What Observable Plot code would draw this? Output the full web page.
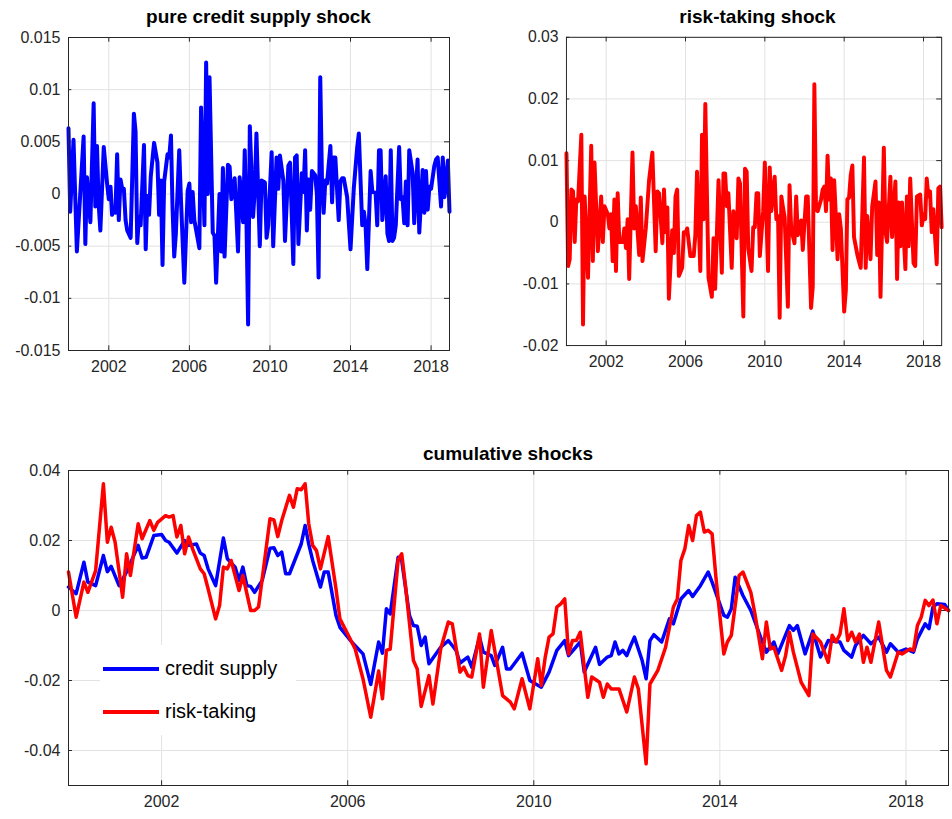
<!DOCTYPE html>
<html>
<head>
<meta charset="utf-8">
<script src="https://cdn.jsdelivr.net/npm/d3@7"></script>
<script src="https://cdn.jsdelivr.net/npm/@observablehq/plot@0.6"></script>
<style>
  body { margin: 0; background: #fff; font-family: "Liberation Sans", Arial, sans-serif; }
  #wrap { position: relative; width: 952px; height: 819px; }
  .panel { position: absolute; }
  .ttl { position: absolute; font-weight: bold; font-size: 19px; color: #000; text-align: center; z-index: 2; }
  #legend { position: absolute; left: 100px; top: 645px; width: 196px; height: 90px; background: #fff; font-size: 20px; color: #000; z-index: 2; }
  #legend div { position: absolute; left: 0; display: flex; align-items: center; }
  #legend span.ln { display: inline-block; width: 56px; height: 4px; margin: 0 6px 0 3px; }
</style>
</head>
<body>
<div id="wrap">
  <div class="panel" id="p1" style="left:0;top:25px"></div>
  <div class="panel" id="p2" style="left:499px;top:25px"></div>
  <div class="panel" id="p3" style="left:0;top:458px"></div>
  <div class="ttl" style="left:68px;width:381px;top:6px">pure credit supply shock</div>
  <div class="ttl" style="left:567px;width:381px;top:6px">risk-taking shock</div>
  <div class="ttl" style="left:68px;width:880px;top:443px">cumulative shocks</div>
  <div id="legend">
    <div style="top:12px"><span class="ln" style="background:#0000ff"></span>credit supply</div>
    <div style="top:55px"><span class="ln" style="background:#ff0000"></span>risk-taking</div>
  </div>
</div>
<script>
// [month index from Jan 2000, value]
const creditShock = [[0,.0063],[1,-.0017],[3,.0052],[5,-.0055],[7,0],[9,.0055],[10,-.0048],[11,.0016],[13,-.0027],[15,.0087],[16,-.0012],[17,.0046],[18,-.001],[19,-.0035],[21,.0045],[23,.001],[24,-.0005],[25,.0007],[26,-.002],[27,-.0015],[28,-.0018],[29,.0038],[30,-.0025],[31,.0014],[32,.0005],[33,.0005],[34,-.0025],[35,-.0035],[37,-.0042],[39,.0077],[40,.006],[41,-.0047],[42,-.0022],[43,-.003],[45,.0047],[46,-.0053],[47,-.0002],[48,-.002],[49,.0017],[51,.0049],[53,.003],[54,-.002],[55,.0013],[56,-.0068],[57,.0012],[59,.0038],[60,.0035],[61,.0056],[62,-.0012],[63,-.006],[64,-.0038],[66,.0042],[67,-.0005],[69,-.0085],[71,.0003],[72,.001],[73,-.0027],[74,.0002],[75,-.0025],[78,-.0052],[79,.0083],[81,-.003],[82,.0126],[83,0],[84,.0112],[86,-.0037],[87,-.004],[88,-.0085],[90,0],[91,-.0055],[92,.0025],[93,-.006],[95,.0028],[96,.0026],[97,-.0005],[99,.0015],[101,-.0055],[102,.0016],[104,-.0027],[105,.0042],[106,-.0025],[107,-.0125],[108,.0065],[110,-.0022],[111,.0004],[112,.0058],[114,-.005],[115,.0013],[117,.0011],[118,-.0042],[119,-.003],[121,.004],[122,-.005],[124,.0035],[125,.0005],[126,.0037],[128,.0013],[129,-.0045],[131,.0027],[132,.003],[134,-.0067],[135,.0035],[136,.0037],[137,-.0048],[139,.002],[140,.0002],[141,.0042],[142,-.0035],[143,.0014],[144,-.0015],[145,.0022],[147,.0018],[148,0],[149,-.008],[150,.0112],[151,.0015],[152,-.0018],[153,.0013],[154,.001],[156,.0046],[157,-.0008],[158,.0035],[159,.0035],[161,-.0025],[162,.0012],[163,.0015],[164,.0015],[166,-.0003],[168,-.0053],[170,.0005],[172,.0044],[173,.0058],[175,-.003],[176,-.0017],[177,-.003],[178,-.0072],[180,.0022],[181,.0002],[183,.0001],[184,-.003],[185,.0042],[186,.0042],[187,-.0025],[189,.0017],[190,-.0038],[191,-.0045],[192,.0042],[193,-.0045],[194,-.0042],[195,-.003],[197,.0045],[198,-.0005],[199,-.0003],[200,-.0028],[201,.0012],[202,-.003],[203,.0042],[205,.002],[206,-.0028],[208,.0033],[209,-.0037],[211,.0023],[212,-.0018],[213,.0022],[214,-.0015],[215,.0007],[216,.0005],[218,.0027],[219,.0033],[220,.0035],[222,-.0012],[223,.0035],[224,-.0003],[226,.0032],[227,-.0017]];

const riskShock = [[0,.0112],[1,-.0071],[2,-.006],[3,.0053],[4,.005],[5,-.0032],[6,.0037],[7,.0034],[9,.0142],[10,-.0166],[11,.0042],[13,-.009],[15,.0124],[16,-.0063],[17,.0097],[19,-.0047],[21,.0042],[22,-.0032],[23,.0026],[25,.0013],[26,-.001],[27,.0013],[28,-.0063],[29,.0037],[30,-.0079],[31,.0047],[32,-.0032],[34,-.0032],[35,-.001],[36,-.0042],[37,.0005],[38,-.0092],[40,.0113],[41,-.001],[42,.0026],[44,-.0053],[45,.004],[46,-.0063],[48,-.001],[50,.0068],[52,.0113],[54,-.0047],[55,.005],[56,.0047],[58,-.0034],[59,.0053],[60,-.0016],[61,.0024],[62,-.0124],[64,-.0013],[65,-.005],[66,.0042],[67,.0053],[68,-.0087],[70,-.0074],[71,-.0016],[72,-.0018],[73,-.001],[75,-.0055],[77,-.0055],[78,-.0021],[79,.0082],[81,-.0079],[82,.0142],[83,.0005],[84,.0192],[85,.0042],[86,-.009],[88,-.0121],[89,-.0026],[90,-.0108],[92,.0068],[94,-.0082],[95,.0079],[96,.0079],[97,.0026],[98,.0047],[100,-.0074],[101,.0018],[103,-.0026],[104,.0071],[105,.0063],[107,-.0153],[108,.0087],[109,.0082],[110,-.0042],[112,-.0079],[113,-.0008],[114,-.0008],[115,.0047],[116,.0047],[117,-.0055],[119,.0018],[120,.0097],[122,-.0079],[123,.0089],[124,.0018],[126,.0074],[127,.0005],[128,.001],[129,-.0155],[130,.0042],[131,.0024],[132,.0008],[134,-.0137],[135,.006],[136,-.001],[138,-.0034],[139,.0042],[140,-.0021],[142,.0003],[143,-.0045],[145,.0042],[146,.0042],[148,-.0139],[149,-.0105],[150,.0224],[151,.0021],[152,.0018],[154,.0037],[155,.0053],[156,.0058],[157,.0018],[158,.0108],[159,.0037],[160,.0071],[161,-.0045],[162,.0068],[163,.001],[164,-.006],[165,.0013],[166,-.001],[168,-.0145],[169,-.011],[170,.0037],[171,.004],[172,.0076],[173,.0092],[174,-.0024],[176,-.0053],[178,-.0074],[180,.0105],[181,-.0074],[182,.001],[184,-.006],[185,.0026],[187,.0066],[188,-.0053],[189,.0032],[190,-.0121],[192,.0121],[193,-.0016],[194,-.0032],[196,.0074],[197,-.0024],[199,.0066],[200,-.0092],[201,.0032],[202,-.0039],[203,.0032],[205,-.0076],[206,.0042],[207,-.0039],[208,.0071],[210,-.0066],[211,-.0071],[212,.0042],[214,.0045],[215,-.0005],[216,.0013],[217,.0005],[218,.0071],[219,.0042],[220,.005],[221,-.0016],[222,.0021],[224,-.0068],[225,.0055],[226,.0058],[227,-.0008]];

const creditCum = [[0,.0067],[2,.0048],[4,.0138],[5,.0081],[7,.0071],[9,.0157],[10,.0111],[11,.0126],[13,.0071],[15,.011],[18,.0186],[19,.015],[20,.0152],[22,.0214],[24,.0217],[25,.02],[26,.0195],[28,.0164],[30,.02],[31,.0186],[33,.019],[34,.0164],[35,.0157],[36,.0119],[38,.0071],[40,.0207],[41,.0148],[43,.0124],[44,.0086],[45,.0124],[46,.0071],[47,.0069],[48,.0052],[50,.0086],[52,.0178],[53,.0179],[54,.0157],[55,.0167],[56,.0105],[57,.0105],[60,.019],[61,.0243],[62,.019],[63,.0143],[65,.0067],[66,.011],[67,.011],[69,-.0014],[70,-.0048],[73,-.009],[76,-.0124],[78,-.0211],[80,-.009],[81,-.0122],[82,.0005],[83,-.001],[85,.0152],[86,.0143],[88,-.0014],[89,-.0043],[90,-.0045],[91,-.01],[92,-.0076],[93,-.0152],[96,-.0105],[98,-.0086],[99,-.01],[100,-.0114],[101,-.015],[103,-.0133],[104,-.0162],[106,-.0076],[107,-.0119],[109,-.0129],[110,-.0157],[112,-.0105],[113,-.0167],[114,-.0167],[117,-.0122],[119,-.02],[122,-.0219],[124,-.0176],[126,-.0114],[128,-.0086],[129,-.0129],[132,-.009],[133,-.0176],[136,-.0105],[137,-.0154],[139,-.0133],[140,-.0129],[141,-.009],[142,-.0124],[143,-.0114],[144,-.0129],[145,-.01],[146,-.0076],[148,-.0143],[149,-.0195],[150,-.0086],[151,-.0069],[153,-.009],[155,-.0024],[156,-.0038],[158,.0033],[160,.0057],[161,.004],[163,.0071],[165,.011],[166,.0081],[169,-.0014],[170,-.0019],[171,.0005],[172,.0095],[174,.0043],[176,0],[179,-.009],[180,-.0119],[182,-.009],[183,-.0124],[186,-.0043],[187,-.0057],[188,-.0043],[190,-.0124],[192,-.0059],[194,-.0133],[196,-.0086],[199,-.009],[200,-.0114],[202,-.0133],[203,-.01],[205,-.0071],[207,-.0095],[209,-.0076],[211,-.0119],[212,-.0095],[214,-.0119],[216,-.011],[218,-.0119],[219,-.0081],[221,-.0038],[222,-.0052],[223,.001],[224,.0019],[226,.0017],[227,0]];

const riskCum = [[0,.011],[2,-.0019],[4,.0081],[5,.0052],[7,.0114],[9,.0362],[10,.0195],[11,.0238],[12,.0195],[14,.0038],[15,.0162],[16,.01],[18,.0248],[19,.0205],[21,.0257],[22,.0229],[23,.0252],[25,.0271],[26,.0267],[27,.0271],[28,.021],[29,.0243],[30,.0162],[31,.021],[32,.0176],[34,.0119],[35,.0105],[36,.0062],[38,-.0024],[39,.0014],[40,.0124],[41,.0119],[42,.0143],[44,.0057],[45,.01],[47,0],[48,0],[49,.001],[52,.0262],[53,.0259],[54,.0211],[55,.0257],[57,.0329],[58,.0295],[59,.0348],[60,.0345],[61,.0362],[62,.0248],[63,.0186],[64,.0171],[65,.0119],[67,.0211],[69,.0062],[70,-.0024],[72,-.0067],[74,-.011],[76,-.0195],[78,-.0305],[80,-.0173],[81,-.0252],[82,-.0114],[83,-.011],[85,.0145],[86,.0162],[87,.0067],[89,-.0143],[90,-.0167],[91,-.0274],[93,-.0186],[94,-.0267],[96,-.011],[98,-.0033],[99,-.0038],[101,-.0176],[102,-.0162],[103,-.0186],[104,-.019],[106,-.0067],[107,-.0219],[109,-.0057],[112,-.0243],[114,-.0262],[115,-.0281],[117,-.0195],[119,-.0281],[121,-.0138],[122,-.0214],[123,-.0133],[124,-.0076],[125,-.0067],[126,.001],[127,.0019],[128,.0033],[129,-.0124],[130,-.0086],[131,-.0086],[132,-.0062],[134,-.0248],[135,-.019],[137,-.0205],[138,-.0248],[139,-.021],[140,-.0224],[142,-.0224],[144,-.029],[146,-.019],[147,-.0224],[149,-.0438],[150,-.021],[152,-.0171],[154,-.0105],[156,.001],[157,.0033],[158,.0143],[159,.0176],[160,.0243],[161,.02],[162,.0271],[163,.0281],[164,.0224],[165,.0229],[166,.0219],[167,.0095],[169,-.0124],[170,-.009],[171,-.0071],[173,.01],[174,.011],[176,.0052],[177,-.0005],[179,-.0138],[180,-.0033],[181,-.011],[182,-.0105],[184,-.0171],[185,-.0129],[186,-.0062],[187,-.0119],[189,-.0205],[191,-.0243],[192,-.0067],[194,-.009],[196,-.0148],[197,-.0071],[198,-.009],[199,-.0067],[200,.0005],[201,-.0086],[202,-.0062],[203,-.009],[204,-.0067],[205,-.0148],[206,-.0105],[207,-.0148],[209,-.0033],[211,-.0171],[212,-.019],[214,-.0119],[215,-.0124],[217,-.011],[218,-.0114],[219,-.0043],[220,-.0019],[221,.0029],[222,.0014],[223,.003],[224,-.0038],[225,.0014],[227,0]];

const yearTicks = [2002, 2006, 2010, 2014, 2018];
const ticks1 = [-0.015, -0.01, -0.005, 0, 0.005, 0.01, 0.015];
const ticks2 = [-0.02, -0.01, 0, 0.01, 0.02, 0.03];
const ticks3 = [-0.04, -0.02, 0, 0.02, 0.04];

const toDate = m => new Date(2000, m, 1);
const xDomain = [toDate(0), toDate(227)];
const xTickDates = yearTicks.map(y => new Date(y, 0, 1));

function panel({series, width, plotHeight, marginRight, yDomain, yTicks, strokeWidth}) {
  const span = yDomain[1] - yDomain[0];
  return Plot.plot({
    width, height: plotHeight + 12 + 35,
    marginLeft: 68, marginRight, marginTop: 12, marginBottom: 35,
    style: {fontFamily: "Liberation Sans, Arial, sans-serif", fontSize: "16px", color: "#262626", background: "transparent", overflow: "visible"},
    x: {type: "time", domain: xDomain, ticks: xTickDates, tickFormat: d3.timeFormat("%Y"), tickSize: 0, tickPadding: 10, label: null},
    y: {domain: yDomain, ticks: yTicks, tickFormat: d => String(d), tickSize: 0, tickPadding: 8, label: null},
    marks: [
      Plot.ruleX(xTickDates, {stroke: "#e2e2e2", strokeWidth: 1}),
      Plot.ruleY(yTicks, {stroke: "#e2e2e2", strokeWidth: 1}),
      Plot.ruleX(xTickDates, {y1: yDomain[0], y2: yDomain[0] + span * 0.015, stroke: "#262626"}),
      Plot.ruleX(xTickDates, {y1: yDomain[1], y2: yDomain[1] - span * 0.015, stroke: "#262626"}),
      Plot.ruleY(yTicks, {x1: xDomain[0], x2: toDate(width > 600 ? 1.2 : 2.5), stroke: "#262626"}),
      Plot.ruleY(yTicks, {x1: xDomain[1], x2: toDate(width > 600 ? 225.8 : 224.5), stroke: "#262626"}),
      ...series.map(s => Plot.line(s.data, {x: d => toDate(d[0]), y: d => d[1], stroke: s.color, strokeWidth, strokeLinejoin: "round"})),
      Plot.frame({stroke: "#262626", strokeWidth: 1})
    ]
  });
}

document.getElementById("p1").append(panel({series: [{data: creditShock, color: "#0000ff"}], width: 460, plotHeight: 313, marginRight: 11, yDomain: [-0.015, 0.015], yTicks: ticks1, strokeWidth: 4}));
document.getElementById("p2").append(panel({series: [{data: riskShock, color: "#ff0000"}], width: 460, plotHeight: 313, marginRight: 11, yDomain: [-0.02, 0.03], yTicks: ticks2, strokeWidth: 4}));
document.getElementById("p3").append(panel({series: [{data: creditCum, color: "#0000ff"}, {data: riskCum, color: "#ff0000"}], width: 952, plotHeight: 315, marginRight: 4, yDomain: [-0.05, 0.04], yTicks: ticks3, strokeWidth: 3.5}));
</script>
</body>
</html>
